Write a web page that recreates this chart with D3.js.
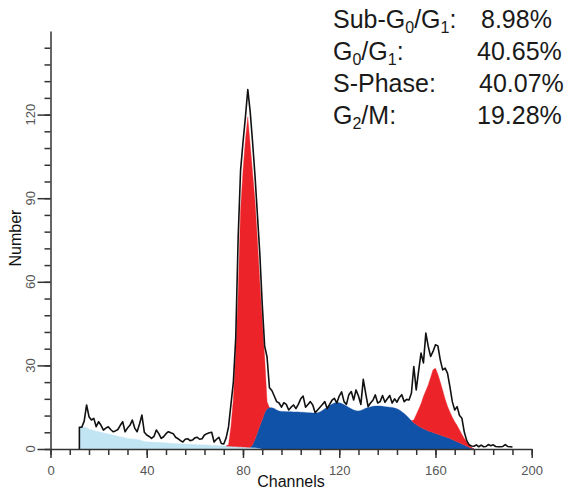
<!DOCTYPE html>
<html><head><meta charset="utf-8">
<script src="https://cdn.jsdelivr.net/npm/d3@7"></script>
<style>body{margin:0;background:#fff} svg{display:block}</style>
</head><body>
<svg id="chart" width="577" height="495"></svg>
<script>
// ---- data ----
const xTicks = [0, 40, 80, 120, 160, 200];
const yTicks = [0, 30, 60, 90, 120];

// raw DNA histogram, channels 12..192
const rawStart = 12;
const rawCounts = [
  7.8, 7.8, 10, 15.8, 11.6, 10.4, 11, 8, 9.8, 8.5,          // 12-21
  6.8, 7.5, 8, 7, 6.2, 6.5, 7, 8.5, 9.8, 6.2,                // 22-31
  7.5, 8.5, 10.4, 7.5, 6.2, 9, 12.2, 6, 5, 4.5,              // 32-41
  3.8, 4.5, 6.8, 5.5, 3.8, 4.4, 5.5, 6.2, 5.8, 5.5,          // 42-51
  4.2, 3.7, 3, 2.5, 3.5, 3.7, 3, 3.2, 4, 4.2,                // 52-61
  3.5, 3.7, 5, 5.5, 5.8, 6, 2.5, 3.5, 4.2, 2,                // 62-71
  1.8, 4, 8, 16, 24, 40, 76, 100, 110, 119,                  // 72-81
  129, 121, 110, 98, 84, 70, 52, 37, 33, 22,                 // 82-91
  21, 19, 17, 16.5, 15, 16.6, 16, 14, 15, 15.8,              // 92-101
  14.5, 16, 18, 19, 15, 16, 17, 15.8, 13, 14,                // 102-111
  15, 16, 17, 14.5, 16, 17.5, 18.2, 16.5, 19, 20.5,          // 112-121
  17, 16, 19.5, 20.6, 17.6, 21.2, 19, 16, 25, 20,            // 122-131
  15.2, 16.5, 17.5, 19.4, 16.5, 17, 19.2, 16.8, 18, 19.2,    // 132-141
  16.5, 18, 16.8, 18.5, 19.5, 17, 17.8, 17.6, 20, 29.6,      // 142-151
  21.2, 28, 34.4, 30.9, 41.6, 36.8, 33.2, 35, 37.4, 37,      // 152-161
  32, 28.4, 29, 27.2, 22.4, 17, 14, 15.2, 12, 11,            // 162-171
  6, 3, 1.5, 1.1, 1, 1.5, 0.8, 1.4, 0.8, 0.9,                // 172-181
  1.6, 1.2, 1.5, 0.9, 0.8, 0.8, 0.9, 1.6, 0.9, 0.8,          // 182-191
  0.7                                                        // 192
];

// model components
const subG1Start = 12;
const subG1 = [
  8.0, 8.0, 7.9, 7.6, 7.2, 6.9, 6.6, 6.4, 6.2, 6.0,
  5.8, 5.6, 5.4, 5.2, 5.0, 4.8, 4.6, 4.4, 4.2, 4.0,
  3.8, 3.7, 3.6, 3.5, 3.4, 3.3, 3.0, 2.7, 2.6, 2.5,
  2.5, 2.4, 2.4, 2.3, 2.3, 2.2, 2.2, 2.1, 2.1, 2.0,
  2.0, 1.9, 1.9, 1.8, 1.8, 1.7, 1.7, 1.6, 1.6, 1.5,
  1.5, 1.5, 1.4, 1.4, 1.4, 1.3, 1.3, 1.3, 1.2, 1.2,
  1.1, 1.1, 1.0, 1.0, 0.9, 0.9, 0.8, 0.8, 0.7, 0.7,
  0.6, 0.6, 0.5, 0.5, 0.4, 0.3, 0
];
const g0g1Start = 73;
const g0g1 = [0, 0.5, 7, 17, 34, 55, 85, 99, 110, 118.5, 108.5, 97.5, 85.5, 69, 51.5, 35.5, 20, 2.5, 0];
const sPhaseStart = 83;
const sPhase = [
  0, 1, 3, 5.5, 8, 10.5, 13, 14.5, 14.8, 14.8,
  14.5, 14, 13.6, 13.5, 13.5, 13.4, 13.4, 13.4, 13.3, 13.3,
  13.3, 13.2, 13.2, 13.1, 13, 13, 12.9, 12.9, 13, 13.3,
  13.8, 14.4, 15, 15.6, 16.1, 16.5, 16.7, 16.6, 16.3, 15.9,
  15.4, 14.9, 14.4, 14, 13.7, 13.6, 13.8, 14.2, 14.6, 14.9,
  15.1, 15.3, 15.4, 15.4, 15.4, 15.3, 15.2, 15.1, 15, 14.9,
  14.7, 14.4, 14, 13.4, 12.7, 11.9, 11, 10.1, 9.4, 8.8,
  8.2, 7.7, 7.3, 6.9, 6.5, 6.2, 5.9, 5.6, 5.3, 5,
  4.7, 4.4, 4.1, 3.8, 3.4, 3, 2.6, 2.2, 1.8, 1.4,
  1, 0.6, 0.3, 0
];
const g2mStart = 150;
const g2m = [0, 1, 3.5, 6, 8.5, 11.5, 14, 16.5, 19.5, 22.5, 23.4, 21.5, 19, 16.3, 13.5, 11.2, 9.5, 8, 6.8, 5.8, 4.6, 3.4, 2.4, 1.5, 0.8, 0.3, 0];

const legendLabels = [
  [["Sub-G", 0], ["0", 1], ["/G", 0], ["1", 1], [":", 0]],
  [["G", 0], ["0", 1], ["/G", 0], ["1", 1], [":", 0]],
  [["S-Phase:", 0]],
  [["G", 0], ["2", 1], ["/M:", 0]]
];
const legendValues = ["8.98%", "40.65%", "40.07%", "19.28%"];

// ---- drawing ----
const svg = d3.select("#chart");
const x = d3.scaleLinear().domain([0, 200]).range([50.5, 531.7]);
const y = d3.scaleLinear().domain([0, 150]).range([449, 31]);

const val = (arr, start, c) => (c >= start && c < start + arr.length) ? arr[c - start] : 0;
const table = d3.range(rawStart, rawStart + rawCounts.length).map(c => ({
  channel: c,
  sub: val(subG1, subG1Start, c),
  s: val(sPhase, sPhaseStart, c),
  g1: val(g0g1, g0g1Start, c),
  g2: val(g2m, g2mStart, c),
  raw: rawCounts[c - rawStart]
}));

const layers = d3.stack().keys(["sub", "s", "g1", "g2"])(table);
const ranges = {
  sub: [subG1Start, subG1Start + subG1.length - 1],
  s: [sPhaseStart, sPhaseStart + sPhase.length - 1],
  g1: [g0g1Start, g0g1Start + g0g1.length - 1],
  g2: [g2mStart, g2mStart + g2m.length - 1]
};
const fills = { sub: "#c2e5f4", s: "#1052a8", g1: "#ec2329", g2: "#ec2329" };

const area = d3.area()
  .x(d => x(d.data.channel))
  .y0(d => y(d[0]))
  .y1(d => y(d[1]));

layers.forEach(layer => {
  const [lo, hi] = ranges[layer.key];
  const pts = layer.filter(d => d.data.channel >= lo && d.data.channel <= hi);
  svg.append("path")
    .attr("d", area(pts))
    .attr("fill", fills[layer.key])
    .attr("stroke", fills[layer.key])
    .attr("stroke-width", 0.4);
});

// raw histogram outline
const line = d3.line().x(d => x(d.channel)).y(d => y(d.raw));
svg.append("path")
  .attr("d", line([{ channel: rawStart, raw: 0 }, ...table]))
  .attr("fill", "none")
  .attr("stroke", "#111")
  .attr("stroke-width", 1.6)
  .attr("stroke-linejoin", "round");

// axes
const axisColor = "#333";
const gx = svg.append("g").attr("transform", "translate(0,449)");
gx.call(d3.axisBottom(x).tickValues(d3.range(0, 201, 8)).tickSize(6).tickSizeOuter(0).tickFormat(""));
const gx2 = svg.append("g").attr("transform", "translate(0,449)");
gx2.call(d3.axisBottom(x).tickValues(xTicks).tickSize(9).tickSizeOuter(0).tickPadding(8));
gx2.select(".domain").remove();

const gy = svg.append("g").attr("transform", "translate(50.5,0)");
gy.call(d3.axisLeft(y).tickValues(d3.range(0, 145, 6)).tickSize(6).tickSizeOuter(0).tickFormat(""));
const gy2 = svg.append("g").attr("transform", "translate(50.5,0)");
gy2.call(d3.axisLeft(y).tickValues(yTicks).tickSize(13).tickSizeOuter(0).tickFormat(""));
gy2.select(".domain").remove();

svg.selectAll(".domain, .tick line").attr("stroke", axisColor).attr("stroke-width", 1.5);
gx2.selectAll(".tick text")
  .attr("font-family", "Arial, 'Liberation Sans', sans-serif")
  .attr("font-size", 13).attr("fill", "#555");

svg.append("g").selectAll("text").data(yTicks).join("text")
  .attr("transform", d => `translate(32,${y(d)}) rotate(-90)`)
  .attr("text-anchor", "middle")
  .attr("dominant-baseline", "middle")
  .attr("font-family", "Arial, 'Liberation Sans', sans-serif")
  .attr("font-size", 13).attr("fill", "#555")
  .text(d => d);

// axis titles
svg.append("text")
  .attr("x", 291).attr("y", 487)
  .attr("text-anchor", "middle")
  .attr("font-family", "Arial, 'Liberation Sans', sans-serif")
  .attr("font-size", 16).attr("fill", "#111")
  .text("Channels");
svg.append("text")
  .attr("transform", "translate(17,238) rotate(-90)")
  .attr("text-anchor", "middle")
  .attr("dominant-baseline", "middle")
  .attr("font-family", "Arial, 'Liberation Sans', sans-serif")
  .attr("font-size", 16).attr("fill", "#111")
  .text("Number");

// legend
const baselines = [28, 60, 92, 124];
const valueX = [481, 477, 479, 477];
const font = "Arial, 'Liberation Sans', Helvetica, sans-serif";
legendLabels.forEach((parts, i) => {
  const t = svg.append("text")
    .attr("x", 333).attr("y", baselines[i])
    .attr("font-family", font).attr("font-size", 25).attr("fill", "#1a1a1a");
  let shifted = false;
  parts.forEach(([txt, sub]) => {
    const ts = t.append("tspan").text(txt);
    if (sub) { ts.attr("font-size", 16).attr("dy", shifted ? 0 : 5); shifted = true; }
    else { if (shifted) ts.attr("dy", -5); shifted = false; }
  });
  svg.append("text")
    .attr("x", valueX[i]).attr("y", baselines[i])
    .attr("font-family", font).attr("font-size", 25).attr("fill", "#1a1a1a")
    .text(legendValues[i]);
});
</script>
</body></html>
